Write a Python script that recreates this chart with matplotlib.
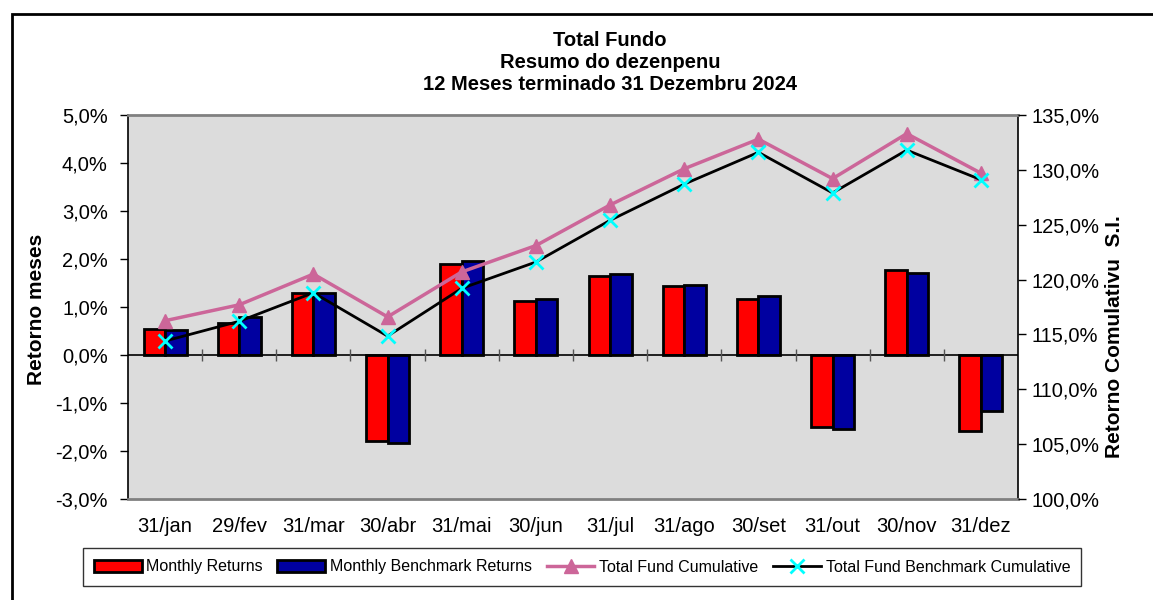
import matplotlib.pyplot as plt
import numpy as np
from matplotlib.ticker import FuncFormatter, MultipleLocator
from matplotlib.patches import Rectangle

plt.rcParams['font.family'] = ['Liberation Sans', 'DejaVu Sans']

# dados
meses = ['31/jan', '29/fev', '31/mar', '30/abr', '31/mai', '30/jun',
         '31/jul', '31/ago', '30/set', '31/out', '30/nov', '31/dez']
retorno_mensal = [0.54, 0.66, 1.30, -1.79, 1.90, 1.13, 1.65, 1.43, 1.16, -1.51, 1.77, -1.58]
retorno_benchmark = [0.52, 0.79, 1.29, -1.83, 1.96, 1.16, 1.68, 1.46, 1.22, -1.55, 1.71, -1.17]
cumulativo_fundo = [116.25, 117.7, 120.5, 116.6, 120.7, 123.1, 126.8, 130.1, 132.8, 129.2, 133.3, 129.7]
cumulativo_benchmark = [114.4, 116.2, 118.8, 114.85, 119.2, 121.6, 125.4, 128.7, 131.6, 127.9, 131.8, 129.1]

def pct(v, pos):
    return f'{v:.1f}%'.replace('.', ',')

fig = plt.figure(figsize=(11.53, 6.0), dpi=100)
ax = fig.add_axes([128/1153, 1 - 499/600, 890/1153, 384/600])
ax.set_facecolor('#dcdcdc')

x = np.arange(len(meses))
w = 0.29
b1 = ax.bar(x - w/2, retorno_mensal, w, color='#ff0000', edgecolor='black', linewidth=2, zorder=2,
            label='Monthly Returns')
b2 = ax.bar(x + w/2, retorno_benchmark, w, color='#0000a0', edgecolor='black', linewidth=2, zorder=2,
            label='Monthly Benchmark Returns')
ax.axhline(0, color='black', lw=1.2, zorder=3)
ax.vlines(x[:-1] + 0.5, -0.13, 0.13, color='#555555', lw=1, zorder=3)

ax.set_xlim(-0.5, len(meses) - 0.5)
ax.set_ylim(-3, 5)
ax.yaxis.set_major_locator(MultipleLocator(1))
ax.yaxis.set_major_formatter(FuncFormatter(pct))
ax.set_xticks(x)
ax.set_xticklabels(meses)
ax.tick_params(axis='x', length=0, pad=13, labelsize=14.5)
ax.tick_params(axis='y', length=6, width=1, direction='out', pad=8.5, labelsize=14.5)

for s in ['top', 'bottom']:
    ax.spines[s].set_color('#808080')
    ax.spines[s].set_linewidth(2)
for s in ['left', 'right']:
    ax.spines[s].set_color('black')
    ax.spines[s].set_linewidth(1.2)

ax2 = ax.twinx()
ax2.set_ylim(100, 135)
ax2.yaxis.set_major_locator(MultipleLocator(5))
ax2.yaxis.set_major_formatter(FuncFormatter(pct))
ax2.tick_params(axis='y', length=6, width=1, direction='out', pad=4, labelsize=14.5)
for s in ax2.spines.values():
    s.set_visible(False)

l1, = ax2.plot(x, cumulativo_fundo, color='#cc6699', lw=2.5, marker='^', markersize=10,
               label='Total Fund Cumulative')
l2, = ax2.plot(x, cumulativo_benchmark, color='black', lw=2, marker='x', markersize=10,
               markeredgecolor='#00ffff', markeredgewidth=2, label='Total Fund Benchmark Cumulative')

# títulos e rótulos
fig.text(610/1153, 1 - 40/600, 'Total Fundo', ha='center', va='center', fontsize=14.5, fontweight='bold')
fig.text(610/1153, 1 - 62/600, 'Resumo do dezenpenu', ha='center', va='center', fontsize=14.5, fontweight='bold')
fig.text(610/1153, 1 - 85/600, '12 Meses terminado 31 Dezembru 2024', ha='center', va='center',
         fontsize=14.5, fontweight='bold')
fig.text(37/1153, 1 - 309/600, 'Retorno meses', rotation=90, ha='center', va='center',
         fontsize=15, fontweight='bold')
fig.text(1114/1153, 1 - 337/600, 'Retorno Comulativu  S.I.', rotation=90, ha='center', va='center',
         fontsize=15, fontweight='bold')

leg = fig.legend(handles=[b1, b2, l1, l2], loc='center', bbox_to_anchor=(582/1153, 1 - 567/600),
                 ncol=4, fontsize=11.5, frameon=True, fancybox=False, edgecolor='black',
                 handlelength=3, columnspacing=0.9, handletextpad=0.3, borderpad=0.7)
leg.get_frame().set_linewidth(1)

# moldura externa
fig.patches.append(Rectangle((12/1153, -0.05), 1.1, 1 - 14/600 + 0.05, transform=fig.transFigure,
                             fill=False, edgecolor='black', lw=2))

fig.savefig('out.png', dpi=100)
